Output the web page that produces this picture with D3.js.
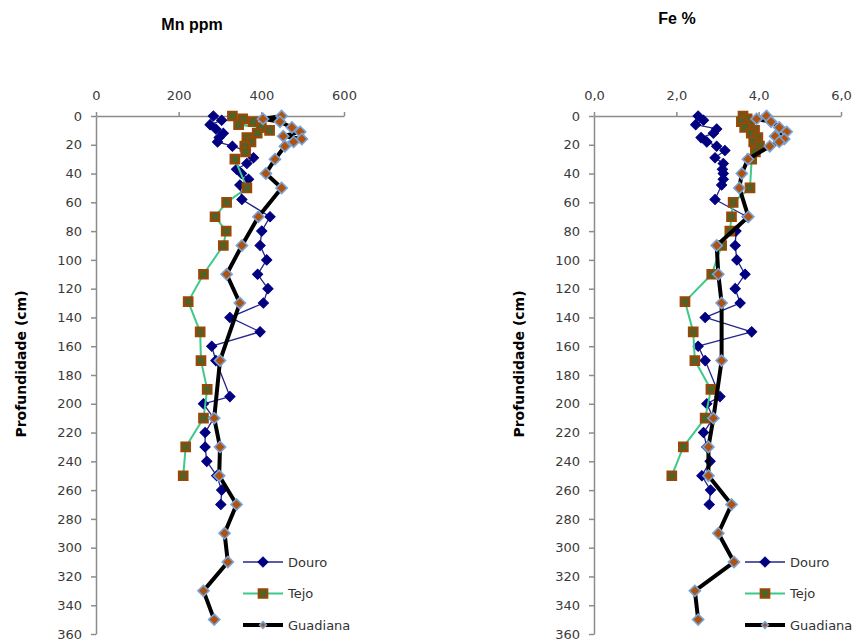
<!DOCTYPE html>
<html>
<head>
<meta charset="utf-8">
<script src="https://cdn.jsdelivr.net/npm/d3@7"></script>
<style>
  body { margin: 0; background: #fff; }
  .tick text { font-family: "DejaVu Sans", Verdana, sans-serif; font-size: 13px; fill: #3a3a3a; }
  .tick line, .domain { stroke: #8c8c8c; stroke-width: 1.5; }
</style>
</head>
<body>
<script>
// depth (cm) and values
var douroDepth = [0,3,6,9,12,15,18,21,24,29,33,37,40,44,48,58,70,80,90,100,110,120,130,140,150,160,170,195,200,210,220,230,240,250,260,270];
var douroMn = [284,304,276,290,308,298,294,330,362,381,365,340,352,369,348,353,421,401,397,413,391,416,405,324,397,280,290,324,260,285,264,264,268,292,304,302];
var douroFe = [2.53,2.66,2.47,2.98,2.90,2.60,2.74,2.98,3.18,2.94,3.14,3.12,3.14,3.14,3.10,2.94,3.72,3.45,3.43,3.47,3.67,3.43,3.55,2.70,3.83,2.53,2.70,3.06,2.74,2.90,2.66,2.74,2.82,2.62,2.83,2.80];

var tejoDepth = [0,2,4,6,8,10,12,15,18,21,25,30,50,60,70,80,90,110,129,150,170,190,210,230,250];
var tejoMn = [330,355,380,345,400,420,390,365,375,360,362,336,365,316,288,315,308,260,223,252,254,269,260,217,211];
var tejoFe = [3.62,3.72,3.58,3.78,3.66,3.90,3.82,3.98,3.88,4.02,3.92,3.83,3.79,3.38,3.34,3.30,3.10,2.86,2.21,2.41,2.45,2.84,2.70,2.17,1.89];

var guadDepth = [0,2,4,8,11,14,16,18,21,30,40,50,70,90,110,130,170,210,230,250,270,290,310,330,350];
var guadMn = [449,404,445,474,494,453,498,478,457,433,411,449,393,353,316,348,300,286,300,298,340,311,319,260,286];
var guadFe = [4.19,3.95,4.30,4.50,4.68,4.40,4.62,4.50,4.27,3.74,3.59,3.53,3.75,2.98,3.02,3.10,3.10,2.90,2.78,2.78,3.34,3.02,3.40,2.45,2.53];

var depthTicks = d3.range(0, 361, 20);
var mnTicks = [0, 200, 400, 600];
var feTicks = [0, 2, 4, 6];
var seriesNames = ["Douro", "Tejo", "Guadiana"];

var width = 856, height = 642;
var commaFmt = d3.formatLocale({decimal: ",", thousands: ".", grouping: [3], currency: ["", ""]}).format(".1f");

var series = [
  {name: seriesNames[0], depth: douroDepth, Mn: douroMn, Fe: douroFe,
   line: "#24248c", lw: 1.3, shape: "diamond", size: 52, fill: "#000080", stroke: "#000080", sw: 1},
  {name: seriesNames[1], depth: tejoDepth, Mn: tejoMn, Fe: tejoFe,
   line: "#3cc98a", lw: 2, shape: "square", size: 72, fill: "#4f6228", stroke: "#984807", sw: 2.2},
  {name: seriesNames[2], depth: guadDepth, Mn: guadMn, Fe: guadFe,
   line: "#000000", lw: 4, shape: "diamond", size: 62, fill: "#b0520f", stroke: "#78a4d8", sw: 1.6}
];

var panels = [
  {key: "Mn", title: "Mn ppm", x0: 96, x1: 344, domain: [0, 600], ticks: mnTicks, fmt: d3.format("d"),
   titleX: 192, titleY: 30, labelX: 21, legX: 243},
  {key: "Fe", title: "Fe %", x0: 594, x1: 841, domain: [0, 6], ticks: feTicks, fmt: commaFmt,
   titleX: 677, titleY: 24, labelX: 519, legX: 745}
];

var y = d3.scaleLinear().domain([0, 360]).range([116, 634]);

var svg = d3.select("body").append("svg")
    .attr("width", width)
    .attr("height", height);
svg.append("rect").attr("width", width).attr("height", height).attr("fill", "#fff");

function marker(s) {
  // excel style: diamond = square turned 45 degrees
  return d3.symbol().type(d3.symbolSquare).size(s.size)();
}

panels.forEach(function(p) {
  var x = d3.scaleLinear().domain(p.domain).range([p.x0, p.x1]);
  var g = svg.append("g");

  g.append("g")
      .attr("transform", "translate(0," + y(0) + ")")
      .call(d3.axisTop(x).tickValues(p.ticks).tickFormat(p.fmt).tickSize(4).tickSizeOuter(0).tickPadding(12));
  g.append("g")
      .attr("transform", "translate(" + x(0) + ",0)")
      .call(d3.axisLeft(y).tickValues(depthTicks).tickSize(5).tickSizeOuter(0).tickPadding(9));

  g.append("text")
      .attr("x", p.titleX).attr("y", p.titleY)
      .attr("text-anchor", "middle")
      .style("font-family", "'Liberation Sans', Arial, sans-serif")
      .style("font-weight", "bold").style("font-size", "16px")
      .text(p.title);

  g.append("text")
      .attr("transform", "translate(" + p.labelX + "," + 364 + ") rotate(-90)")
      .attr("text-anchor", "middle")
      .attr("dy", "0.35em")
      .style("font-family", "'DejaVu Sans', Verdana, sans-serif")
      .style("font-weight", "bold").style("font-size", "14px")
      .text("Profundidade (cm)");

  series.forEach(function(s) {
    var pts = s.depth.map(function(d, i) { return [s[p.key][i], d]; });
    g.append("path")
        .datum(pts)
        .attr("fill", "none")
        .attr("stroke", s.line)
        .attr("stroke-width", s.lw)
        .attr("stroke-linejoin", "round")
        .attr("d", d3.line().x(function(d) { return x(d[0]); }).y(function(d) { return y(d[1]); }));
    g.selectAll(null)
        .data(pts)
      .enter().append("path")
        .attr("d", marker(s))
        .attr("transform", function(d) {
          return "translate(" + x(d[0]) + "," + y(d[1]) + ")" + (s.shape == "diamond" ? " rotate(45)" : "");
        })
        .attr("fill", s.fill)
        .attr("stroke", s.stroke)
        .attr("stroke-width", s.sw);
  });

  // legend
  var leg = g.selectAll(".leg")
      .data(series)
    .enter().append("g")
      .attr("transform", function(d, i) { return "translate(" + p.legX + "," + (562 + i * 31.5) + ")"; });
  leg.append("line")
      .attr("x1", 0).attr("x2", 40)
      .attr("stroke", function(d) { return d.line; })
      .attr("stroke-width", function(d) { return d.lw; });
  leg.append("path")
      .attr("d", function(d) { return d3.symbol().type(d3.symbolSquare).size(d.name == "Guadiana" ? 22 : d.size)(); })
      .attr("transform", function(d) { return "translate(20,0)" + (d.shape == "diamond" ? " rotate(45)" : ""); })
      .attr("fill", function(d) { return d.fill; })
      .attr("stroke", function(d) { return d.stroke; })
      .attr("stroke-width", function(d) { return d.sw; });
  leg.append("text")
      .attr("x", 45).attr("dy", "0.35em")
      .style("font-family", "'DejaVu Sans', Verdana, sans-serif")
      .style("font-size", "13px").style("fill", "#333")
      .text(function(d) { return d.name; });
});
</script>
</body>
</html>
